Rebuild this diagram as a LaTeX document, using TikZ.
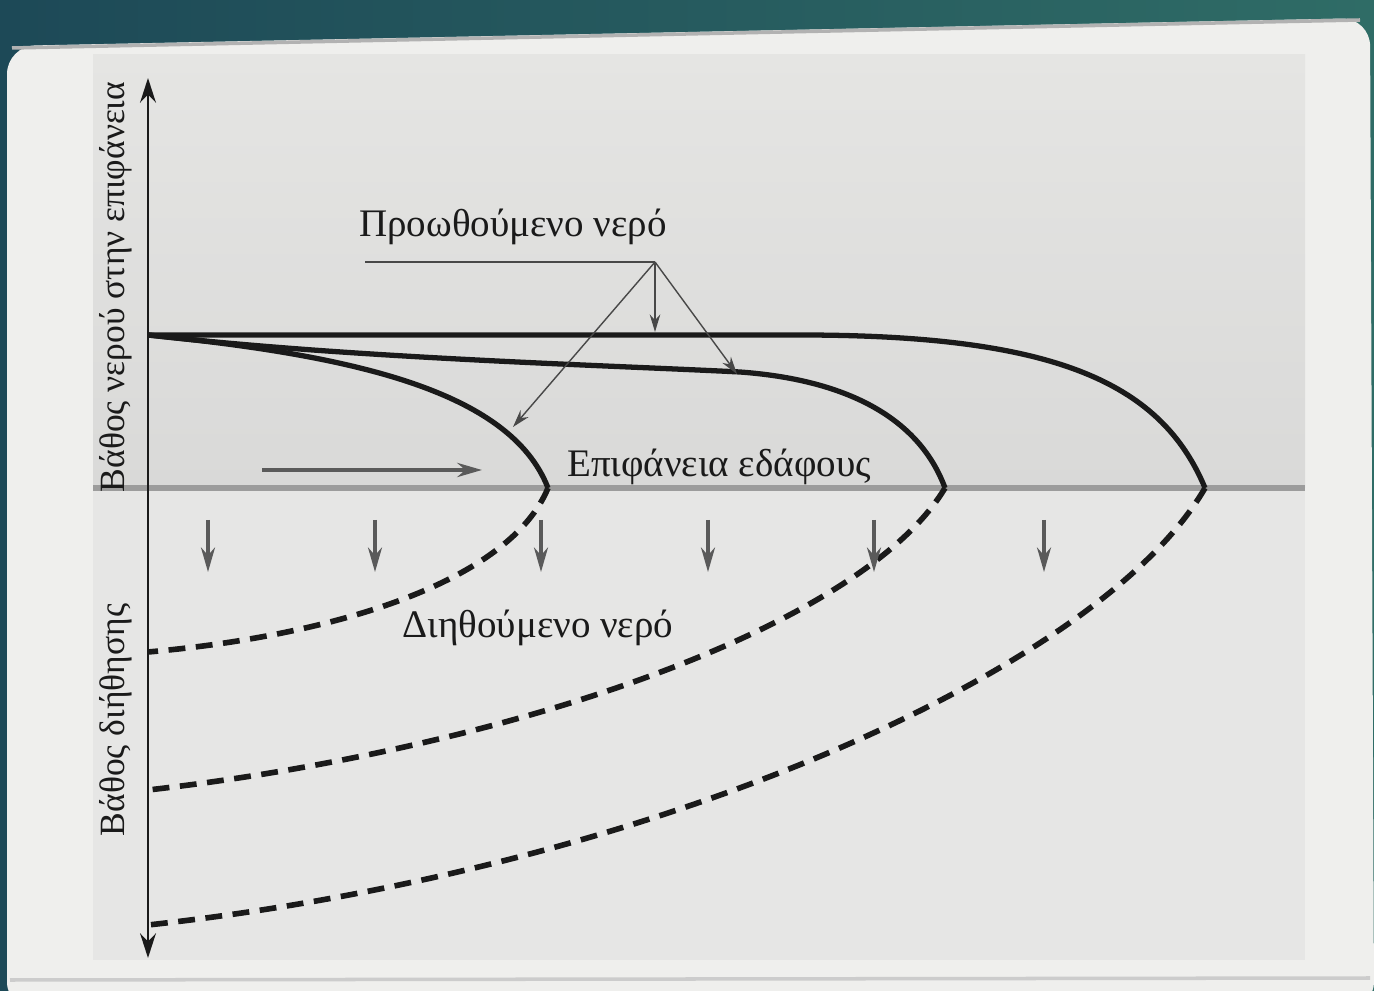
\documentclass[tikz,border=0pt]{standalone}
\usepackage{fontspec}
\setmainfont{Liberation Serif}
\usepackage{tikz}
\usetikzlibrary{arrows.meta}
\definecolor{teal1}{HTML}{1D4957}
\definecolor{teal2}{HTML}{2F6C66}
\definecolor{paper}{HTML}{EFEFED}
\definecolor{panelup}{HTML}{D9D9D8}
\definecolor{paneltop}{HTML}{E5E5E3}
\definecolor{panellow}{HTML}{E6E6E5}
\definecolor{soil}{HTML}{9C9C9C}
\definecolor{ink}{HTML}{1A1A1A}
\definecolor{arrowgray}{HTML}{5A5A5A}

\tikzset{
  front/.style={ink, line width=1.5pt},
  seep/.style={ink, line width=1.6pt, dash pattern=on 4.8pt off 3pt},
  drop/.style={arrowgray, line width=0.9pt, -{Stealth[length=7pt,width=4pt]}},
  leader/.style={ink!80, line width=0.4pt, -{Stealth[length=5pt,width=3pt]}},
  lbl/.style={ink, font=\fontsize{11.1}{13}\selectfont, inner sep=1pt},
  axlbl/.style={ink, font=\fontsize{10.1}{12}\selectfont, inner sep=1pt, rotate=90}
}

\begin{document}
\begin{tikzpicture}
  \useasboundingbox (0,0) rectangle (13.74,9.90);
  % photo background: page and panel
  \shade[left color=teal1, right color=teal2] (0,0) rectangle (13.74,9.90);
  \fill[paper, rounded corners=8pt] (0.07,-0.2) -- (0.07,9.44) -- (13.70,9.72) -- (13.74,-0.2) -- cycle;
  \draw[gray!60, line width=1pt] (0.12,9.42) -- (13.60,9.70);
  \draw[gray!40, line width=1pt] (0.10,0.10) -- (13.70,0.12);
  \shade[top color=paneltop, bottom color=panelup] (0.93,5.02) rectangle (13.05,9.35);
  \fill[panellow] (0.93,0.30) rectangle (13.05,5.02);

  % named points
  \coordinate (o)  at (1.48,6.55);
  \coordinate (g1) at (5.48,5.02);
  \coordinate (g2) at (9.45,5.02);
  \coordinate (g3) at (12.05,5.02);
  \coordinate (d1) at (1.48,3.38);
  \coordinate (d2) at (1.48,2.00);
  \coordinate (d3) at (1.48,0.65);
  \coordinate (axtop) at (1.48,9.12);
  \coordinate (axbot) at (1.48,0.32);
  \coordinate (gl) at (0.93,5.02);
  \coordinate (gr) at (13.05,5.02);

  % soil surface and axis
  \draw[soil, line width=1.8pt] (gl) -- (gr);
  \draw[ink, line width=0.7pt, {Stealth[length=7pt,width=4.5pt]}-{Stealth[length=7pt,width=4.5pt]}] (axbot) -- (axtop);

  % advancing water fronts
  \draw[front] (o) -- (8.0,6.55) .. controls (10.5,6.55) and (11.6,6.1) .. (g3);
  \draw[front] (o) .. controls (3.5,6.32) and (6.0,6.25) .. (7.4,6.18)
               .. controls (8.5,6.1) and (9.2,5.7) .. (g2);
  \draw[front] (o) .. controls (3.5,6.35) and (5.1,6.0) .. (g1);

  % infiltration fronts
  \draw[seep] (g1) .. controls (5.1,4.1) and (3.4,3.55) .. (d1);
  \draw[seep] (g2) .. controls (8.6,3.6) and (5.0,2.4) .. (d2);
  \draw[seep] (g3) .. controls (11.0,3.2) and (6.5,1.2) .. (d3);

  % flow arrows
  \draw[drop, line width=1.2pt] (2.62,5.20) -- (4.82,5.20);
  \foreach \x in {2.08,3.75,5.41,7.08,8.74,10.44}
    \draw[drop] (\x,4.70) -- (\x,4.18);

  % labels
  \node[lbl] (lblpush) at (5.13,7.63) {Προωθούμενο νερό};
  \coordinate (ul) at (3.65,7.28);
  \coordinate (p)  at (6.55,7.28);
  \coordinate (t1) at (6.55,6.58);
  \coordinate (t2) at (5.13,5.63);
  \coordinate (t3) at (7.37,6.16);
  \draw[ink!80, line width=0.4pt] (ul) -- (p);
  \draw[leader] (p) -- (t1);
  \draw[leader] (p) -- (t2);
  \draw[leader] (p) -- (t3);

  \node[lbl] (lblground) at (7.19,5.23) {Επιφάνεια εδάφους};
  \node[lbl] (lblseep) at (5.38,3.62) {Διηθούμενο νερό};
  \node[axlbl] (lblsurf) at (1.16,7.03) {Βάθος νερού στην επιφάνεια};
  \node[axlbl] (lblinf) at (1.16,2.70) {Βάθος διήθησης};
\end{tikzpicture}
\end{document}
